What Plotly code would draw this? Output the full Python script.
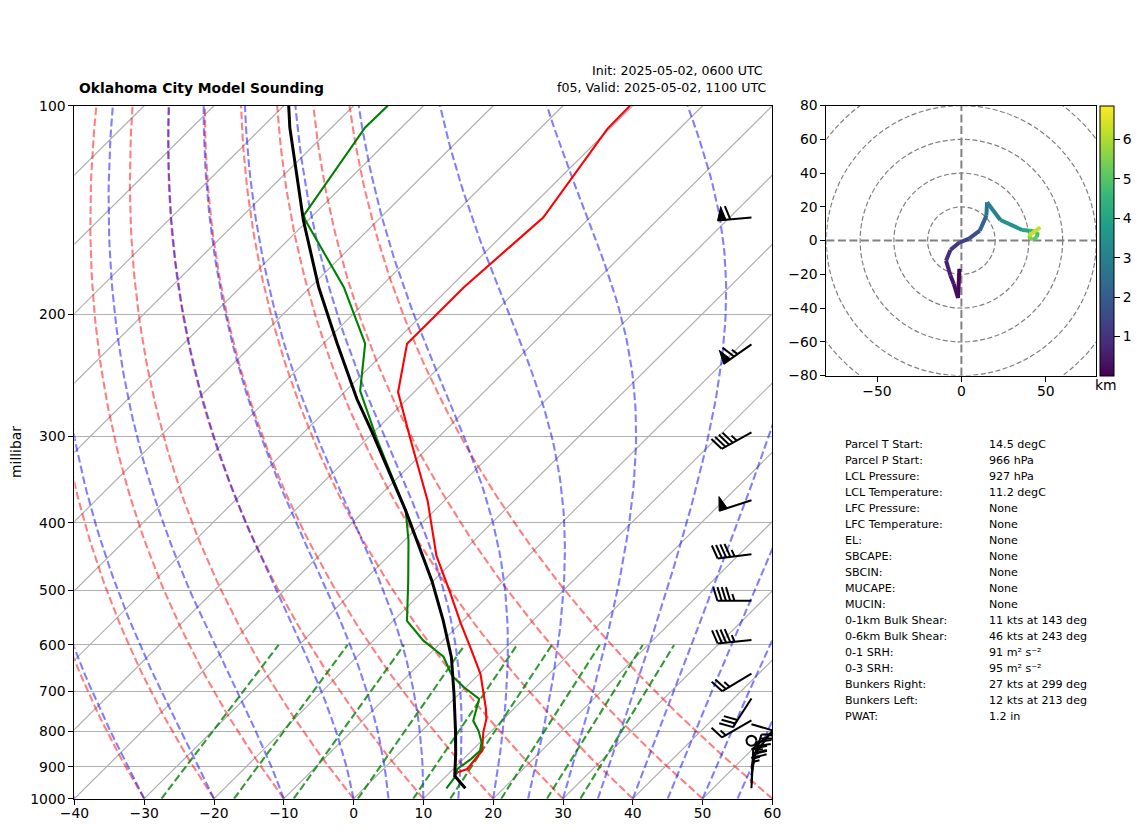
import math
import numpy as np
import plotly.graph_objects as go
from plotly.colors import sample_colorscale

W, H = 1142, 832
FONT = "DejaVu Sans"

# ---- sounding ----
temp_p = [966, 927, 916, 906, 886, 853, 802, 767, 742, 661, 605, 557, 506, 446, 371.5, 302.5, 259, 220.5, 182.8, 145, 108, 100]
temp_t = [14.5, 11.2, 11.1, 12.0, 11.8, 11.5, 9.0, 7.5, 6.0, 0.2, -5.1, -10.1, -15.7, -23.2, -32.4, -43.8, -52.3, -58.0, -58.0, -56.7, -60.3, -60.4]
dew_p = [966, 932, 906, 876, 853, 829, 798, 772, 718, 691, 665, 624, 608, 591.5, 554, 485, 424, 384, 302.5, 258, 220.5, 182.8, 146.5, 144, 107.5, 100]
dew_t = [11.8, 11.4, 10.6, 11.1, 11.2, 10.2, 8.1, 5.9, 3.6, -0.2, -3.6, -7.6, -10.1, -12.8, -18.0, -23.6, -29.4, -34.1, -48.6, -57.9, -64.0, -75.2, -90.3, -91.3, -95.2, -95.1]
parcel_p = [966, 927, 861.5, 798, 705, 625, 554, 485, 384, 296.5, 265, 220.5, 182.8, 146.5, 107.5, 100]
parcel_t = [14.5, 11.2, 8.15, 4.8, -0.8, -6.4, -12.8, -20.2, -34.1, -50.1, -57.2, -68.0, -78.8, -90.6, -106.0, -109.3]

# ---- wind barbs ----
barb_p = [145, 221, 296, 371, 444, 518, 590, 660, 717, 771, 781, 825, 850, 875, 900, 925, 950, 966]
barb_spd = [60, 65, 45, 50, 45, 45, 45, 25, 30, 15, 5, 0, 10, 15, 20, 25, 35, 15]
barb_dir = [265, 235, 241, 252, 263, 270, 264, 239, 213, 240, 106, 0, 50, 37, 17, 10, 3, 3]

# ---- hodograph ----
hodo_u = [-1.2, -2.0, -4.5, -6.5, -9.1, -6.5, -1.0, 4.3, 10.9, 14.8, 15.2, 23.1, 36.0, 40.5, 45.2, 44.8, 41.9, 39.9, 46.8]
hodo_v = [-16.8, -34.0, -25.7, -20.7, -11.9, -5.5, -1.0, 1.0, 5.9, 14.8, 22.7, 12.2, 6.3, 5.9, 4.9, 2.0, 0.4, 3.0, 7.9]
hodo_h = [0.05, 0.2, 0.35, 0.5, 0.8, 1.0, 1.2, 1.5, 1.9, 2.4, 2.8, 3.2, 3.8, 4.2, 4.6, 5.0, 5.3, 5.7, 6.8]
hodo_rings = [20, 40, 60, 80, 100]

# ---- axes labels ----
x_ticks = [-40, -30, -20, -10, 0, 10, 20, 30, 40, 50, 60]
p_ticks = [100, 200, 300, 400, 500, 600, 700, 800, 900, 1000]
hodo_xticks = [-50, 0, 50]
hodo_yticks = [-80, -60, -40, -20, 0, 20, 40, 60, 80]
cbar_ticks = [1, 2, 3, 4, 5, 6]

# ---- background line families (start values) ----
isotherm_t = list(range(-140, 61, 10))
dry_t0 = list(range(-40, 61, 10))
moist_t0 = [-40, -30, -20, -10, 0, 5, 10, 15, 20, 25, 30, 35, 40, 45, 50, 55, 60]
mix_w = [0.0004, 0.001, 0.002, 0.004, 0.007, 0.01, 0.016, 0.024, 0.032]

# ---- parameter table ----
table_labels = ["Parcel T Start:", "Parcel P Start:", "LCL Pressure:", "LCL Temperature:", "LFC Pressure:",
                "LFC Temperature:", "EL:", "SBCAPE:", "SBCIN:", "MUCAPE:", "MUCIN:", "0-1km Bulk Shear:",
                "0-6km Bulk Shear:", "0-1 SRH:", "0-3 SRH:", "Bunkers Right:", "Bunkers Left:", "PWAT:"]
table_values = ["14.5 degC", "966 hPa", "927 hPa", "11.2 degC", "None", "None", "None", "None", "None", "None",
                "None", "11 kts at 143 deg", "46 kts at 243 deg", "91 m² s⁻²", "95 m² s⁻²",
                "27 kts at 299 deg", "12 kts at 213 deg", "1.2 in"]

SKEW = 100.0  # degrees per decade of pressure
PX_X, PX_Y = 6.98, 693.0


def skew(t, p):
    return np.asarray(t, float) + SKEW * np.log10(1000.0 / np.asarray(p, float))


def es(tc):
    return 6.112 * np.exp(17.67 * tc / (tc + 243.5))


def moist_curve(t0, ps):
    Rd, cp, Lv, eps = 287.05, 1005.0, 2.501e6, 0.622
    out = [t0]
    T = t0 + 273.15
    for a, b in zip(ps[:-1], ps[1:]):
        n = 4
        dlnp = math.log(b / a) / n
        pc = a
        for _ in range(n):
            e = es(T - 273.15)
            rs = eps * e / max(pc - e, 1e-3)
            T += dlnp * (Rd * T + Lv * rs) / (cp + Lv * Lv * rs * eps / (Rd * T * T))
            pc *= math.exp(dlnp)
        out.append(T - 273.15)
    return np.array(out)


fig = go.Figure()
levels = np.geomspace(1000, 100, 80)
XA = dict(xaxis="x", yaxis="y", hoverinfo="skip", showlegend=False)
GREY = "#b0b0b0"
DASH = "7.7px,3.3px"

for t in isotherm_t:
    fig.add_trace(go.Scatter(x=skew([t, t], [1000, 100]), y=[1000, 100], mode="lines",
                             line=dict(color=GREY, width=1.2), **XA))
for t0 in dry_t0:
    ts = (t0 + 273.15) * (levels / 1000.0) ** 0.2857 - 273.15
    fig.add_trace(go.Scatter(x=skew(ts, levels), y=levels, mode="lines",
                             line=dict(color="rgba(255,0,0,0.5)", width=2.1, dash=DASH), **XA))
for t0 in moist_t0:
    ts = moist_curve(t0, levels)
    fig.add_trace(go.Scatter(x=skew(ts, levels), y=levels, mode="lines",
                             line=dict(color="rgba(0,0,255,0.5)", width=2.1, dash=DASH), **XA))
mix_p = np.array([1000.0, 600.0])
for w in mix_w:
    e = mix_p * w / (0.622 + w)
    lg = np.log(e / 6.112)
    td = 243.5 * lg / (17.67 - lg)
    fig.add_trace(go.Scatter(x=skew(td, mix_p), y=mix_p, mode="lines",
                             line=dict(color="rgba(0,128,0,0.8)", width=2.1, dash=DASH), **XA))

fig.add_trace(go.Scatter(x=skew(temp_t, temp_p), y=temp_p, mode="lines", line=dict(color="#ff0000", width=2.1), **XA))
fig.add_trace(go.Scatter(x=skew(dew_t, dew_p), y=dew_p, mode="lines", line=dict(color="#008000", width=2.1), **XA))
fig.add_trace(go.Scatter(x=skew(parcel_t, parcel_p), y=parcel_p, mode="lines", line=dict(color="#000000", width=3), **XA))

# wind barbs
BASE_X = 57.0
L = 34.0
SP, FW, FH = 0.125 * L, 0.25 * L, 0.4 * L
lx, ly, fx, fy = [], [], [], []
for p, spd, d in zip(barb_p, barb_spd, barb_dir):
    az = math.radians(d)
    ax, ay = math.sin(az), math.cos(az)
    rx, ry = math.cos(az), -math.sin(az)

    def pt(off, side):
        dx = off * ax + side * rx
        dy = off * ay + side * ry
        return BASE_X + dx / PX_X, p * 10 ** (-dy / PX_Y)

    if spd < 2.5:
        for k in range(25):
            a = 2 * math.pi * k / 24
            lx.append(BASE_X + 5 * math.cos(a) / PX_X)
            ly.append(p * 10 ** (-5 * math.sin(a) / PX_Y))
        lx.append(None)
        ly.append(None)
        continue
    n50 = int(spd // 50)
    n10 = int((spd - 50 * n50) // 10)
    n5 = int((spd - 50 * n50 - 10 * n10) // 5)
    a0, b0 = pt(0, 0)
    a1, b1 = pt(L, 0)
    lx += [a0, a1, None]
    ly += [b0, b1, None]
    off = L
    for i in range(n50):
        if off != L:
            off += SP / 2
        for o, s in ((off, 0), (off - FW / 2, FH), (off - FW, 0), (off, 0)):
            a, b = pt(o, s)
            fx.append(a)
            fy.append(b)
        fx.append(None)
        fy.append(None)
        off -= FW + SP
    for i in range(n10):
        a, b = pt(off, 0)
        c, e2 = pt(off + FW / 2, FH)
        lx += [a, c, None]
        ly += [b, e2, None]
        off -= SP
    if n5:
        if n50 == 0 and n10 == 0:
            off -= 1.5 * SP
        a, b = pt(off, 0)
        c, e2 = pt(off + FW / 4, FH / 2)
        lx += [a, c, None]
        ly += [b, e2, None]

fig.add_trace(go.Scatter(x=lx, y=ly, mode="lines", line=dict(color="black", width=2), cliponaxis=False, **XA))
fig.add_trace(go.Scatter(x=fx, y=fy, mode="lines", fill="toself", fillcolor="black",
                         line=dict(color="black", width=1), cliponaxis=False, **XA))

# hodograph
HA = dict(xaxis="x2", yaxis="y2", hoverinfo="skip", showlegend=False)
HMIN, HMAX = 0.01, 6.86
for i in range(len(hodo_u) - 1):
    mid = 0.5 * (hodo_h[i] + hodo_h[i + 1])
    col = sample_colorscale("Viridis", (mid - HMIN) / (HMAX - HMIN))[0]
    fig.add_trace(go.Scatter(x=hodo_u[i:i + 2], y=hodo_v[i:i + 2], mode="lines",
                             line=dict(color=col, width=4), **HA))
fig.add_trace(go.Scatter(
    x=hodo_u, y=hodo_v, mode="markers",
    marker=dict(size=1, color=hodo_h, colorscale="Viridis", cmin=HMIN, cmax=HMAX,
                colorbar=dict(x=1100 / W, xanchor="left", xpad=0, ypad=0, y=1 - 105.6 / H, yanchor="top",
                              len=270 / H, lenmode="fraction", thickness=14, thicknessmode="pixels",
                              outlinewidth=1, outlinecolor="black", tickmode="array", tickvals=cbar_ticks,
                              ticks="outside", ticklen=6, tickwidth=1, tickcolor="black",
                              tickfont=dict(family=FONT, size=13.9, color="black"))),
    **HA))

shapes = []
for r in hodo_rings:
    shapes.append(dict(type="circle", xref="x2", yref="y2", x0=-r, x1=r, y0=-r, y1=r, layer="below",
                       line=dict(color="#808080", width=1.2, dash="5px,2.5px")))
shapes.append(dict(type="line", xref="x2", yref="y2", x0=-80, x1=80, y0=0, y1=0, layer="below",
                   line=dict(color="#808080", width=2, dash="8px,3.5px")))
shapes.append(dict(type="line", xref="x2", yref="y2", x0=0, x1=0, y0=-80, y1=80, layer="below",
                   line=dict(color="#808080", width=2, dash="8px,3.5px")))


def note(text, px, py, size, anchor="left", **kw):
    return dict(text=text, x=px / W, y=1 - py / H, xref="paper", yref="paper", xanchor=anchor, yanchor="middle",
                showarrow=False, font=dict(family=FONT, size=size, color="black"), **kw)


notes = [
    note("<b>Oklahoma City Model Sounding</b>", 77, 87.5, 13.9),
    note("Init: 2025-05-02, 0600 UTC", 765, 70, 12.6, "right"),
    note("f05, Valid: 2025-05-02, 1100 UTC", 768, 87.5, 12.6, "right"),
    note("millibar", 16, 452, 13.9, "center", textangle=-90),
    note("km", 1106, 384.5, 13.9, "center"),
]
for i, (a, b) in enumerate(zip(table_labels, table_values)):
    y = 444 + 16.04 * i
    notes.append(note(a, 843, y, 11.1))
    notes.append(note(b, 987, y, 11.1))

axis_common = dict(showline=True, linecolor="black", linewidth=1, mirror=True, ticks="outside", ticklen=5,
                   tickwidth=1, tickcolor="black", tickfont=dict(family=FONT, size=13.9, color="black"),
                   zeroline=False, showgrid=False, automargin=False)
fig.update_layout(
    width=W, height=H, margin=dict(l=0, r=0, t=0, b=0, autoexpand=False), paper_bgcolor="white", plot_bgcolor="white",
    showlegend=False, shapes=shapes, annotations=notes, hovermode=False,
    xaxis=dict(domain=[74.4 / W, 772.4 / W], range=[-40, 60], tickmode="array", tickvals=x_ticks, anchor="y",
               ticklabelstandoff=-3, **axis_common),
    yaxis=dict(domain=[1 - 798.7 / H, 1 - 105.7 / H], type="log", range=[3, 2], tickmode="array", tickvals=p_ticks,
               ticktext=[str(v) for v in p_ticks], anchor="x",
               **{**axis_common, "showgrid": True, "gridcolor": GREY, "gridwidth": 1}),
    xaxis2=dict(domain=[826.4 / W, 1096.4 / W], range=[-80, 80], tickmode="array", tickvals=hodo_xticks, anchor="y2",
                ticklabelstandoff=-2, **axis_common),
    yaxis2=dict(domain=[1 - 375.6 / H, 1 - 105.6 / H], range=[-80, 80], tickmode="array", tickvals=hodo_yticks, anchor="x2", **axis_common),
)

fig.write_html("out.html", config={"displayModeBar": False},
               post_script="document.body.style.margin='0';document.body.style.overflow='hidden';")
